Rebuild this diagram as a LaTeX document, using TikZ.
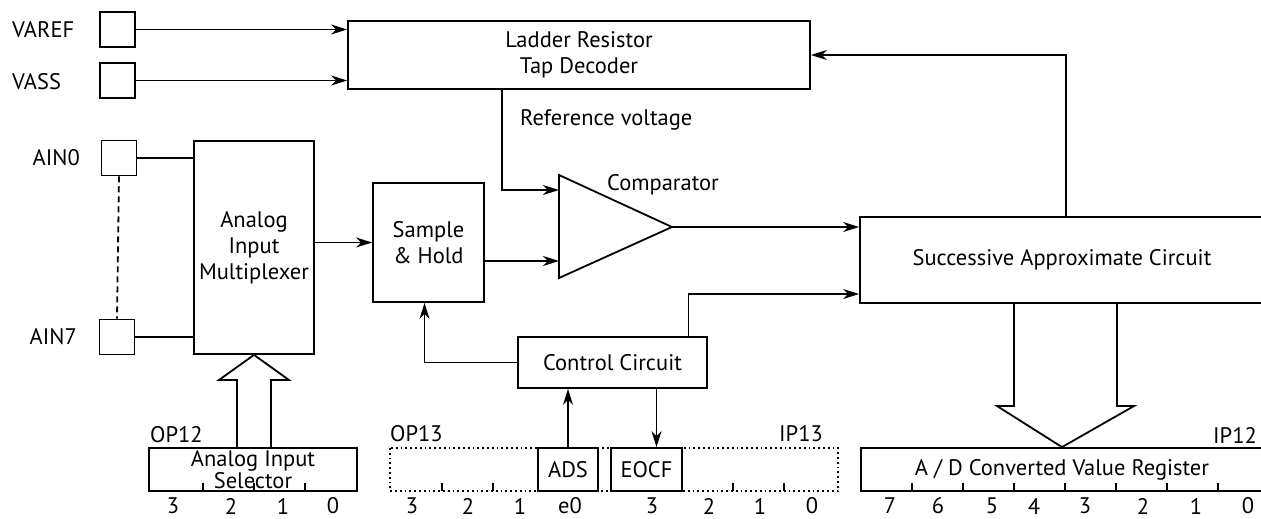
\documentclass[tikz,border=0pt]{standalone}
\usepackage{fontspec}
\setmainfont{PT Sans}
\usetikzlibrary{arrows.meta}

\tikzset{
  blk/.style={draw,line width=1.8pt,inner sep=0pt,align=center},
  pinbox/.style={blk,minimum width=35pt,minimum height=35pt},
  sig/.style={line width=1.8pt,-{Stealth[length=16pt,width=10pt,inset=5pt]}},
  wire/.style={line width=1.8pt},
  tick/.style={line width=1.8pt},
  txt/.style={inner sep=0pt,font=\fontsize{22.5}{26}\selectfont}
}

\begin{document}
\begin{tikzpicture}[x=1pt,y=-1pt,font=\fontsize{22.5}{26}\selectfont]
\useasboundingbox (0,0) rectangle (1261,519);

%Define register parameters
\def\regtop{448}       %Top of the registers.
\def\regbot{491}       %Bottom of the registers.
\def\numy{506}         %Baseline row of the bit numbers.

% Define coordinates of the comparator
\coordinate (cmpa) at (559,175);
\coordinate (cmpb) at (559,278);
\coordinate (cmpt) at (672,227);
\coordinate (refin) at (559,190);
\coordinate (shin) at (559,261);

% PINS
\node[pinbox] (varef) at (117.5,29.5) {};
\node[pinbox] (vass) at (117.5,80.5) {};
\node[pinbox] (ain0) at (119,158) {};
\node[pinbox] (ain7) at (117,337) {};
\node[txt,anchor=west] (lvaref) at (12,30) {VAREF};
\node[txt,anchor=west] (lvass) at (12,82) {VASS};
\node[txt,anchor=east] (lain0) at (80,158) {AIN0};
\node[txt,anchor=east] (lain7) at (77,337) {AIN7};
\draw[wire,dash pattern=on 6pt off 4pt] (ain0.south) -- (ain7.north);

% BLOCKS
\node[blk,minimum width=462pt,minimum height=68pt] (ladder) at (579,55) {Ladder Resistor\\Tap Decoder};
\node[blk,minimum width=120pt,minimum height=213pt] (mux) at (254,247.5) {Analog\\Input\\Multiplexer};
\node[blk,minimum width=111pt,minimum height=119pt] (sh) at (428.5,242.5) {Sample\\\& Hold};
\node[blk,minimum width=404pt,minimum height=86pt] (sac) at (1062,260) {Successive Approximate Circuit};
\node[blk,minimum width=189pt,minimum height=51pt] (ctrl) at (612.5,362.5) {Control Circuit};

% COMPARATOR
\draw[wire,line join=miter] (cmpa) -- (cmpb) -- (cmpt) -- cycle;
\node[txt,anchor=west] (lcmp) at (607,185) {Comparator};
\node[txt,anchor=west] (lref) at (520,120) {Reference voltage};

% Signal lines
\draw[sig] (varef.east) -- (varef.east -| ladder.west);
\draw[sig] (vass.east) -- (vass.east -| ladder.west);
\draw[wire] (ain0.east) -- (ain0.east -| mux.west);
\draw[wire] (ain7.east) -- (ain7.east -| mux.west);
\draw[sig] (sh.west -| mux.east) -- (sh.west);
\draw[sig] (shin -| sh.east) -- (shin);
\draw[sig] ([xshift=-77pt]ladder.south) |- (refin);
\draw[sig] (cmpt) -- (cmpt -| sac.west);
\draw[sig] ([xshift=4pt]sac.north) |- (ladder.east);
\draw[sig] ([xshift=76pt]ctrl.north) |- ([yshift=-34pt]sac.west);
\draw[sig] (ctrl.west) -| ([xshift=-4pt]sh.south);

% OP12 register
\node[blk,minimum width=208pt,minimum height=43pt,font=\fontsize{22.5}{13}\selectfont] (sel) at (253,469.5) {Analog Input\\Selector};
\node[txt,anchor=west] (lop12) at (150,435) {OP12};
\foreach \x in {203,254,305} \draw[tick] (\x,\regbot) -- (\x,483);
\foreach \x/\b in {173/3,231/2,283/1,333/0} \node[txt] at (\x,\numy) {\b};
\draw[wire,line join=miter] (237,\regtop) -- (237,380) -- (219,380) -- (mux.south) -- (289,380) -- (271,380) -- (271,\regtop);

% OP13 / IP13 register
\draw[line width=1.8pt,dash pattern=on 1.8pt off 3pt] (390,\regtop) rectangle (838,\regbot);
\node[blk,fill=white,minimum width=60pt,minimum height=43pt] (ads) at (568,469.5) {ADS};
\node[blk,fill=white,minimum width=71pt,minimum height=43pt] (eocf) at (646.5,469.5) {EOCF};
\node[txt,anchor=west] (lop13) at (390,434) {OP13};
\node[txt,anchor=east] (lip13) at (823,434) {IP13};
\foreach \x in {442,493,733,784} \draw[tick] (\x,\regbot) -- (\x,483);
\foreach \x/\b in {412/3,468/2,520/1,570/e0,652/3,709/2,760/1,812/0} \node[txt] at (\x,\numy) {\b};
\draw[sig] (ads.north) -- (ads.north |- ctrl.south);
\draw[sig] ([xshift=10pt]eocf.north |- ctrl.south) -- ([xshift=10pt]eocf.north);

% IP12 register
\node[blk,minimum width=402pt,minimum height=43pt] (adreg) at (1062,469.5) {A / D Converted Value Register};
\node[txt,anchor=east] (lip12) at (1257,435) {IP12};
\foreach \x in {912,963,...,1219} \draw[tick] (\x,\regbot) -- (\x,483);
\foreach \x/\b in {890/7,938/6,992/5,1034/4,1085/3,1143/2,1196/1,1248/0} \node[txt] at (\x,\numy) {\b};
\draw[wire,line join=miter] (1014,303) -- (1014,406) -- (997,406) -- (adreg.north) -- (1134,406) -- (1117,406) -- (1117,303);

\end{tikzpicture}
\end{document}
